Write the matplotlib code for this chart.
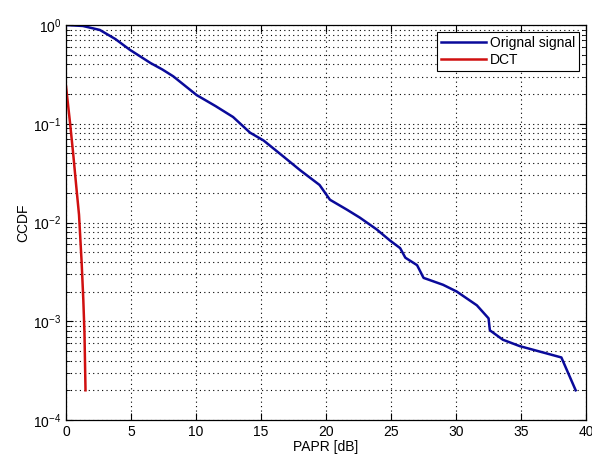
import matplotlib
matplotlib.use('Agg')
import matplotlib.pyplot as plt
from matplotlib.ticker import LogLocator, NullFormatter, MultipleLocator

plt.rcParams['font.family'] = ['Liberation Sans', 'DejaVu Sans']
plt.rcParams['mathtext.default'] = 'regular'

# PAPR [dB] and CCDF
papr_orig = [0, 1.3, 2.6, 3.8, 4.9, 6.5, 7.4, 8.25, 10.05, 11.5, 12.85, 14.15, 15.2,
             16.7, 18.0, 19.5, 20.3, 21.6, 22.6, 23.9, 24.9, 25.7, 26.1, 27.0,
             27.5, 29.0, 30.05, 31.6, 32.5, 32.6, 33.6, 34.9, 38.1, 39.2]
ccdf_orig = [1.0, 0.977, 0.891, 0.72, 0.562, 0.412, 0.355, 0.302, 0.195, 0.151,
             0.117, 0.0813, 0.0676, 0.0468, 0.0339, 0.0240, 0.0170, 0.0135,
             0.0112, 0.0085, 0.0066, 0.0055, 0.0044, 0.0037, 0.00275, 0.00234,
             0.0020, 0.00145, 0.00107, 0.00081, 0.00065, 0.00056, 0.00043, 0.0002]

papr_dct = [0, 0.3, 0.55, 0.8, 1.0, 1.2, 1.33, 1.42, 1.5]
ccdf_dct = [0.24, 0.105, 0.05, 0.0224, 0.012, 0.004, 0.00166, 0.00076, 0.0002]

fig = plt.figure(figsize=(5.92, 4.61), dpi=100)
ax = fig.add_axes([0.1115, 0.0889, 0.8785, 0.8569])

ax.semilogy(papr_orig, ccdf_orig, color='#0a0a9a', lw=1.8, label='Orignal signal')
ax.semilogy(papr_dct, ccdf_dct, color='#d01010', lw=1.8, label='DCT')

ax.set_xlim(0, 40)
ax.set_ylim(1e-4, 1)
ax.xaxis.set_major_locator(MultipleLocator(5))
ax.yaxis.set_major_locator(LogLocator(base=10, numticks=10))
ax.yaxis.set_minor_locator(LogLocator(base=10, subs=range(2, 10), numticks=10))
ax.yaxis.set_minor_formatter(NullFormatter())

ax.grid(True, which='major', axis='both', color='black', ls=(0, (1, 3)), lw=0.8)
ax.grid(True, which='minor', axis='y', color='black', ls=(0, (1, 3)), lw=0.8)
ax.tick_params(which='both', direction='in', top=True, right=True, labelsize=10)
ax.tick_params(which='major', length=5)
ax.tick_params(which='minor', length=3)
for s in ax.spines.values():
    s.set_linewidth(0.9)

ax.set_xlabel('PAPR [dB]', fontsize=10, labelpad=1)
ax.set_ylabel('CCDF', fontsize=10, labelpad=2)

leg = ax.legend(loc='upper right', fontsize=10, fancybox=False, framealpha=1,
                edgecolor='black', handlelength=3.2, borderaxespad=0.5,
                handletextpad=0.3, borderpad=0.3, labelspacing=0.2)
leg.get_frame().set_linewidth(0.8)

fig.savefig('out.png', dpi=100)
